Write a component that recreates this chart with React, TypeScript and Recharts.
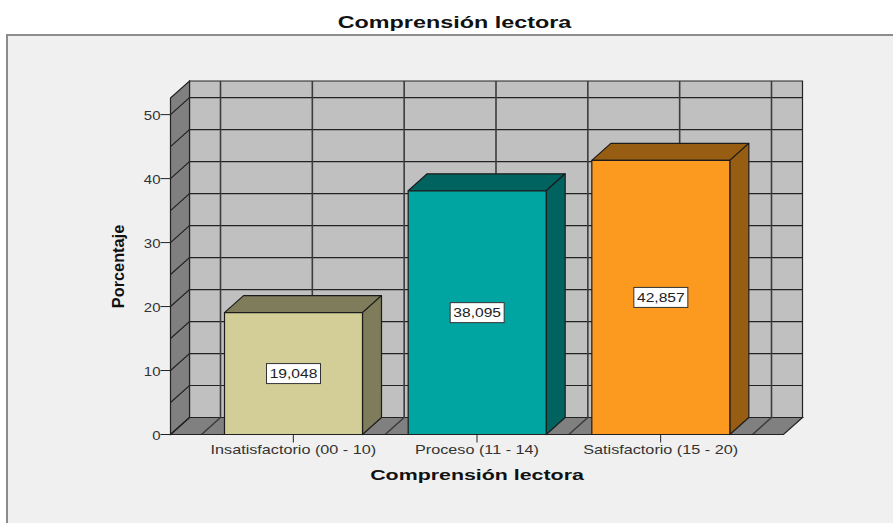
import { Bar, BarChart, LabelList, ReferenceArea, ReferenceLine, XAxis, YAxis } from 'recharts';

const categories = ['Insatisfactorio (00 - 10)', 'Proceso (11 - 14)', 'Satisfactorio (15 - 20)'];
const percentages = [19.048, 38.095, 42.857];
const slots = [0.5, 1.5, 2.5];
const yTicks = [0, 10, 20, 30, 40, 50];
const gridValues = [0, 5, 10, 15, 20, 25, 30, 35, 40, 45, 50];
const gridSlots = [0, 0.5, 1, 1.5, 2, 2.5, 3];
const frontColors = ['#D3CE97', '#00A5A1', '#FB9A1E'];
const sideColors = ['#7F7C5B', '#006360', '#975D12'];

const rows = categories.map((name, i) => ({ name, value: percentages[i], slot: slots[i] }));

// depth of the fake 3D box
const DX = 19;
const DY = 17;
const AXIS_PAD = 31;
const Y_MAX = 52.6;
const FONT = '"Liberation Sans", Arial, sans-serif';
const LINE = '#222';

function Walls({ x, y, width, height }: any) {
  const left = x - AXIS_PAD;
  const right = x + width + AXIS_PAD;
  const bottom = y + height;
  return (
    <g stroke={LINE} strokeWidth={1.2}>
      <polygon points={`${left + DX},${y - DY} ${right + DX},${y - DY} ${right + DX},${bottom - DY} ${left + DX},${bottom - DY}`} fill="#C0C0C0" />
      <polygon points={`${left},${y} ${left + DX},${y - DY} ${left + DX},${bottom - DY} ${left},${bottom}`} fill="#808080" />
      <polygon points={`${left},${bottom} ${left + DX},${bottom - DY} ${right + DX},${bottom - DY} ${right},${bottom}`} fill="#808080" />
    </g>
  );
}

function WallRow({ x1, y1, x2 }: any) {
  return (
    <polyline
      points={`${x1},${y1} ${x1 + DX},${y1 - DY} ${x2 + DX},${y1 - DY}`}
      fill="none"
      stroke={LINE}
      strokeWidth={1.2}
    />
  );
}

function WallColumn({ x1, y1, y2 }: any) {
  const top = Math.min(y1, y2);
  const bottom = Math.max(y1, y2);
  return (
    <polyline
      points={`${x1},${bottom} ${x1 + DX},${bottom - DY} ${x1 + DX},${top - DY}`}
      fill="none"
      stroke="#3c3c3c"
      strokeWidth={1.6}
    />
  );
}

function Box3D({ x, y, width, height, index }: any) {
  const r = x + width;
  const b = y + height;
  return (
    <g stroke="#1c1c1c" strokeWidth={1.2} strokeLinejoin="round">
      <polygon points={`${x},${y} ${x + DX},${y - DY} ${r + DX},${y - DY} ${r},${y}`} fill={sideColors[index]} />
      <polygon points={`${r},${y} ${r + DX},${y - DY} ${r + DX},${b - DY} ${r},${b}`} fill={sideColors[index]} />
      <rect x={x} y={y} width={width} height={height} fill={frontColors[index]} />
    </g>
  );
}

function ValueBox({ x, y, width, height, value }: any) {
  const cx = x + width / 2;
  const cy = y + height / 2;
  return (
    <g>
      <rect x={cx - 27} y={cy - 10} width={54} height={20} fill="#fff" stroke="#333" strokeWidth={1} />
      <text
        transform={`translate(${cx},${cy + 4.5}) scale(1.2,1)`}
        textAnchor="middle"
        fontFamily={FONT}
        fontSize={13}
        fill="#222"
      >
        {Number(value).toFixed(3).replace('.', ',')}
      </text>
    </g>
  );
}

function CategoryTick({ x, y, payload }: any) {
  return (
    <text
      transform={`translate(${x},${y + 11}) scale(1.35,1)`}
      textAnchor="middle"
      fontFamily={FONT}
      fontSize={12}
      fill="#333"
    >
      {payload.value}
    </text>
  );
}

function PercentTick({ x, y, payload }: any) {
  return (
    <text
      transform={`translate(${x},${y + 5.5}) scale(1.2,1)`}
      textAnchor="end"
      fontFamily={FONT}
      fontSize={12.5}
      fill="#333"
    >
      {payload.value}
    </text>
  );
}

function AxisName({ viewBox }: any) {
  const cx = viewBox.x + viewBox.width / 2;
  return (
    <text
      transform={`translate(${cx},480) scale(1.38,1)`}
      textAnchor="middle"
      fontFamily={FONT}
      fontWeight="bold"
      fontSize={15.5}
      fill="#111"
    >
      Comprensión lectora
    </text>
  );
}

function ValueAxisName() {
  return (
    <text
      transform="translate(124,266.5) rotate(-90) scale(0.96,1)"
      textAnchor="middle"
      fontFamily={FONT}
      fontWeight="bold"
      fontSize={17}
      fill="#111"
    >
      Porcentaje
    </text>
  );
}

export default function App() {
  return (
    <div style={{ position: 'absolute', left: 0, top: 0, width: 893, height: 523, background: '#fff', overflow: 'hidden' }}>
      <div
        style={{
          position: 'absolute',
          left: 6,
          top: 34,
          width: 900,
          height: 500,
          background: '#F0F0F0',
          border: '2px solid #8c8c8c',
          boxSizing: 'border-box',
        }}
      />
      <svg width={893} height={34} style={{ position: 'absolute', left: 0, top: 0 }}>
        <text
          transform="translate(454.5,28) scale(1.46,1)"
          textAnchor="middle"
          fontFamily={FONT}
          fontWeight="bold"
          fontSize={16}
          fill="#111"
        >
          Comprensión lectora
        </text>
      </svg>
      <div style={{ position: 'absolute', left: 0, top: 0 }}>
        <BarChart
          width={893}
          height={523}
          data={rows}
          margin={{ top: 98, right: 109.5, bottom: 38.5, left: 110.5 }}
          barSize={138}
        >
          <XAxis
            dataKey="name"
            height={50}
            padding={{ left: AXIS_PAD, right: AXIS_PAD }}
            tick={<CategoryTick />}
            tickSize={8}
            tickMargin={0}
            interval={0}
            stroke="#222"
            label={<AxisName />}
          />
          <XAxis
            xAxisId="grid"
            dataKey="slot"
            type="number"
            domain={[0, 3]}
            allowDataOverflow
            hide
            padding={{ left: AXIS_PAD, right: AXIS_PAD }}
          />
          <YAxis
            width={60}
            domain={[0, Y_MAX]}
            ticks={yTicks}
            tick={<PercentTick />}
            tickSize={10}
            tickMargin={0}
            stroke="#222"
            label={<ValueAxisName />}
          />
          <ReferenceArea xAxisId="grid" x1={0} x2={3} y1={0} y2={Y_MAX} shape={<Walls />} ifOverflow="visible" zIndex={-30} />
          {gridValues.map((v) => (
            <ReferenceLine key={v} y={v} shape={<WallRow />} zIndex={-20} />
          ))}
          {gridSlots.map((s) => (
            <ReferenceLine key={s} xAxisId="grid" x={s} shape={<WallColumn />} zIndex={-20} />
          ))}
          <Bar dataKey="value" shape={<Box3D />} isAnimationActive={false}>
            <LabelList dataKey="value" content={<ValueBox />} />
          </Bar>
        </BarChart>
      </div>
    </div>
  );
}
